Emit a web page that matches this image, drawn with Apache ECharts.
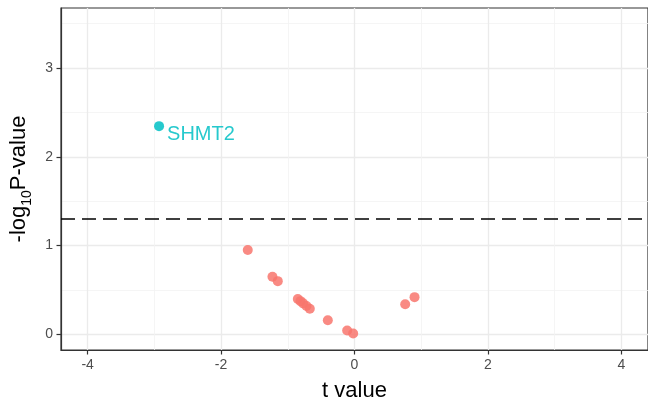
<!DOCTYPE html>
<html>
<head>
<meta charset="utf-8">
<script src="https://cdn.jsdelivr.net/npm/echarts@6/dist/echarts.min.js"></script>
<style>
  html, body { margin: 0; padding: 0; background: #fff; }
  #chart { width: 648px; height: 407px; }
</style>
</head>
<body>
<div id="chart"></div>
<script>
// Non-significant genes: t statistic and -log10 p-value
const tValues   = [-1.60, -1.23, -1.15, -0.85, -0.81, -0.77, -0.72, -0.67, -0.40, -0.11, -0.02, 0.76, 0.90];
const negLogP   = [ 0.95,  0.65,  0.60,  0.40,  0.375, 0.35,  0.32,  0.29,  0.16,  0.045, 0.01, 0.34, 0.42];

// Significant genes (labelled)
const sigGenes  = ['SHMT2'];
const sigT      = [-2.93];
const sigNegLogP = [2.345];

// Significance threshold: -log10(0.05)
const threshold = 1.301;

// Tick labels
const xTicks = [-4, -2, 0, 2, 4];
const yTicks = [0, 1, 2, 3];

const FONT = "'Liberation Sans', Arial, Helvetica, sans-serif";
const RED = '#F8766D';
const TEAL = '#00BFC4';

const chart = echarts.init(document.getElementById('chart'), null, { renderer: 'canvas' });

const nsData = tValues.map((t, i) => [t, negLogP[i]]);
const sigData = sigT.map((t, i) => ({ value: [t, sigNegLogP[i]], name: sigGenes[i] }));

chart.setOption({
  animation: false,
  backgroundColor: '#ffffff',
  grid: {
    left: 61, top: 8, width: 588, height: 342,
    show: true, borderColor: '#333333', borderWidth: 1.2,
    containLabel: false
  },
  xAxis: {
    type: 'value',
    min: -4.4, max: 4.4,
    minInterval: 2, maxInterval: 2,
    name: 't value',
    nameLocation: 'middle',
    nameGap: 30,
    nameTextStyle: { fontFamily: FONT, fontSize: 22, color: '#000' },
    axisLine: { show: true, onZero: false, lineStyle: { color: '#333333', width: 1.2 } },
    axisTick: { show: true, customValues: xTicks, length: 4.5, lineStyle: { color: '#333333', width: 1.2 } },
    axisLabel: { customValues: xTicks, margin: 8.5, fontFamily: FONT, fontSize: 14, color: '#4D4D4D' },
    splitLine: { show: true, lineStyle: { color: '#EBEBEB', width: 1.3 } },
    minorTick: { show: false, splitNumber: 2 },
    minorSplitLine: { show: true, lineStyle: { color: '#F2F2F2', width: 0.8 } }
  },
  yAxis: {
    type: 'value',
    min: -0.175, max: 3.675,
    minInterval: 1, maxInterval: 1,
    name: '-log{s|10}P-value',
    nameLocation: 'middle',
    nameRotate: 90,
    nameGap: 31,
    nameTextStyle: {
      fontFamily: FONT, fontSize: 22, color: '#000', lineHeight: 22,
      rich: {
        s: { fontFamily: FONT, fontSize: 14, color: '#000', lineHeight: 14, verticalAlign: 'top', padding: [12, 0, 0, 0] }
      }
    },
    axisLine: { show: true, onZero: false, lineStyle: { color: '#333333', width: 1.2 } },
    axisTick: { show: true, customValues: yTicks, length: 4.5, lineStyle: { color: '#333333', width: 1.2 } },
    axisLabel: { customValues: yTicks, margin: 8, fontFamily: FONT, fontSize: 14, color: '#4D4D4D' },
    splitLine: { show: true, lineStyle: { color: '#EBEBEB', width: 1.3 } },
    minorTick: { show: false, splitNumber: 2 },
    minorSplitLine: { show: true, lineStyle: { color: '#F2F2F2', width: 0.8 } }
  },
  series: [
    {
      name: 'not significant',
      type: 'scatter',
      data: nsData,
      symbolSize: 10,
      itemStyle: { color: RED, opacity: 0.85 },
      silent: true,
      markLine: {
        silent: true,
        symbol: ['none', 'none'],
        label: { show: false },
        lineStyle: { color: '#000000', type: [14, 7], width: 1.7 },
        data: [{ yAxis: threshold }]
      }
    },
    {
      name: 'significant',
      type: 'scatter',
      data: sigData,
      symbolSize: 10,
      itemStyle: { color: TEAL, opacity: 0.85 },
      silent: true,
      label: {
        show: true,
        position: 'right',
        distance: 3,
        offset: [0, 8],
        formatter: p => p.name,
        fontFamily: FONT,
        fontSize: 20,
        color: TEAL
      }
    }
  ]
});
</script>
</body>
</html>
